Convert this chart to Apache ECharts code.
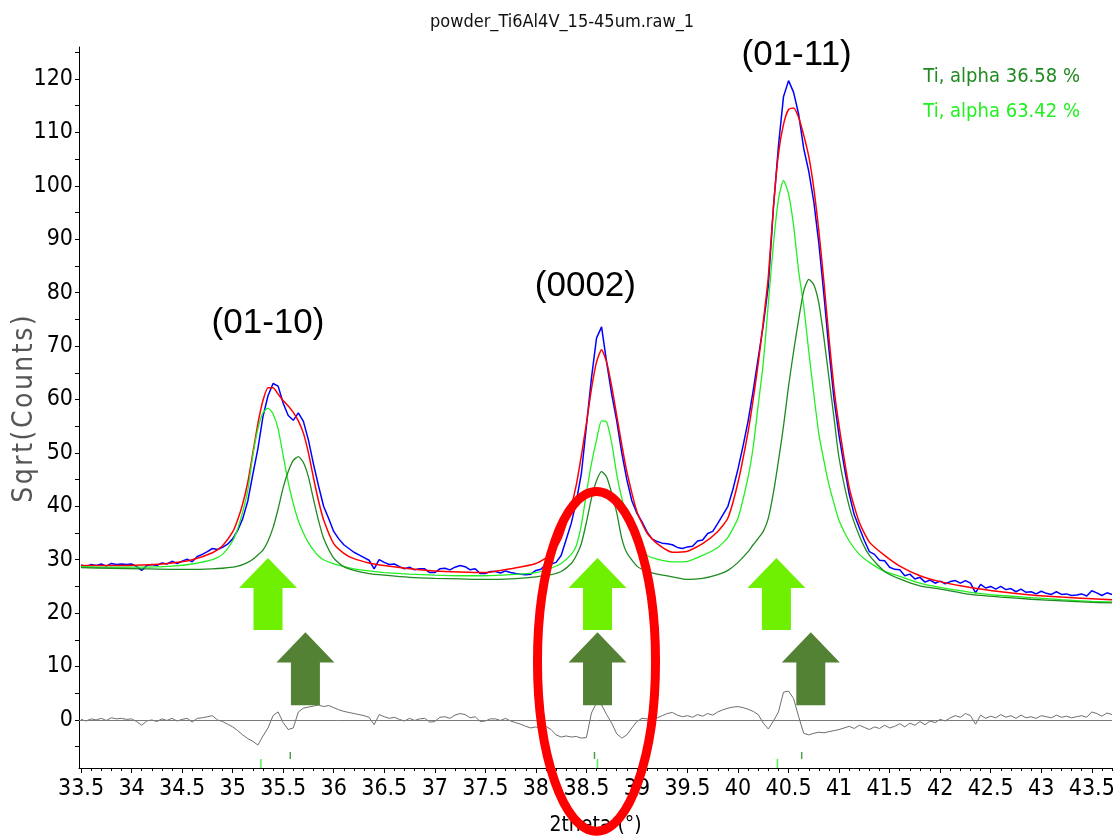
<!DOCTYPE html>
<html><head><meta charset="utf-8">
<script src="https://cdn.jsdelivr.net/npm/echarts@6/dist/echarts.min.js"></script>
<style>html,body{margin:0;padding:0;background:#fff}#c{width:1115px;height:839px}</style>
</head><body><div id="c"></div>
<script>
// ---------------- DATA ----------------
const TITLE = 'powder_Ti6Al4V_15-45um.raw_1';
const X_LABEL = '2theta (°)';
const Y_LABEL = 'Sqrt(Counts)';
const X_TICK_LABELS = [33.5,34,34.5,35,35.5,36,36.5,37,37.5,38,38.5,39,39.5,40,40.5,41,41.5,42,42.5,43,43.5];
const Y_TICK_LABELS = [0,10,20,30,40,50,60,70,80,90,100,110,120];

// observed scan, evenly sampled from OBS_START in steps of OBS_STEP
const OBS_START = 33.5, OBS_STEP = 0.05;
const OBSERVED = [
  29.0,28.7,29.1,28.9,29.2,28.8,29.3,29.1,29.2,29.1,
  29.2,28.7,28.0,28.9,29.1,28.9,29.4,29.2,29.7,29.3,
  29.7,30.1,29.6,30.6,31.0,31.5,32.1,31.9,32.3,32.9,
  33.9,35.5,37.7,41.0,46.0,50.8,56.8,60.7,63.0,62.5,
  59.3,57.0,56.1,57.5,55.9,52.4,47.9,43.8,40.0,37.7,
  35.3,33.9,32.8,32.1,31.4,30.9,30.4,29.9,28.3,30.0,
  29.5,29.1,29.2,28.7,28.3,28.6,28.1,28.3,28.3,27.6,
  27.6,28.3,28.4,28.1,28.6,28.9,28.7,28.1,28.3,27.4,
  27.4,27.8,27.8,27.5,27.9,27.6,27.4,27.3,27.2,27.3,
  28.0,28.2,29.2,29.2,29.5,30.8,33.8,36.8,40.9,46.1,
  55.0,64.0,71.5,73.6,67.0,61.0,56.0,50.0,45.0,41.0,
  38.7,37.1,35.2,33.9,33.4,33.1,33.0,32.8,32.3,32.1,
  32.4,32.5,33.5,33.7,34.9,35.3,36.8,38.4,40.0,43.2,
  47.0,51.3,56.0,61.6,67.8,73.9,81.3,95.8,107.5,116.7,
  119.7,117.5,113.4,107.0,102.7,97.0,89.2,79.6,69.3,60.0,
  53.2,47.5,42.3,38.4,36.0,33.6,31.5,31.0,29.9,29.8,
  28.6,28.2,28.1,27.0,27.3,26.4,26.7,25.8,26.2,25.6,
  26.0,25.5,25.9,26.1,25.6,26.1,25.6,23.8,25.4,24.7,
  25.0,24.5,25.0,24.4,24.6,24.0,24.5,23.9,24.0,23.6,
  24.1,23.7,23.5,24.0,23.5,23.6,23.3,23.4,23.6,23.2,
  24.2,23.8,23.3,23.8,23.5
];
const DIFFERENCE = [
  0.1,-0.2,0.2,0.0,0.3,-0.1,0.4,0.2,0.3,0.1,
  0.2,-0.3,-1.0,-0.2,0.0,-0.3,0.2,-0.1,0.3,-0.2,
  0.1,0.3,-0.4,0.3,0.4,0.6,0.8,0.0,-0.3,-0.8,
  -1.3,-2.0,-2.8,-3.5,-4.0,-4.7,-3.0,-1.5,0.8,1.5,
  -0.5,-1.8,-1.5,1.5,2.2,2.4,2.6,2.8,2.5,2.7,
  2.3,1.9,1.6,1.4,1.2,1.0,0.8,0.5,-0.9,1.0,
  0.6,0.3,0.5,0.1,-0.2,0.3,-0.1,0.2,0.3,-0.4,
  -0.3,0.5,0.6,0.3,0.9,1.2,1.0,0.4,0.6,-0.3,
  -0.2,0.2,0.2,-0.1,0.3,-0.2,-0.5,-0.8,-1.2,-1.5,
  -1.3,-1.6,-1.2,-1.8,-2.8,-3.2,-3.0,-3.2,-3.1,-3.4,
  -3.3,1.3,3.2,2.8,1.0,-0.6,-2.6,-3.4,-2.8,-1.5,
  -0.3,0.3,0.2,0.1,0.4,0.8,1.2,1.4,0.9,0.6,
  0.8,0.5,1.0,0.7,1.2,0.9,1.5,1.9,2.2,2.4,
  2.5,2.3,2.0,1.6,1.0,-0.6,-1.7,-0.2,1.5,5.2,
  5.4,4.0,0.6,-2.5,-2.8,-2.5,-2.3,-2.4,-2.2,-2.0,
  -1.8,-1.5,-1.2,-1.6,-1.0,-1.4,-1.8,-1.3,-1.6,-1.0,
  -1.5,-1.2,-0.7,-1.3,-0.6,-1.0,-0.3,-0.9,-0.2,-0.5,
  0.1,-0.2,0.4,0.8,0.5,1.2,0.8,-0.8,0.9,0.3,
  0.7,0.4,1.0,0.5,0.8,0.3,0.9,0.4,0.6,0.3,
  0.8,0.6,0.4,0.9,0.5,0.7,0.4,0.6,0.8,0.5,
  1.5,1.2,0.7,1.3,1.0
];

// fitted curves, sampled at FIT_X
const FIT_X = [
  33.5,33.8,34.1,34.4,34.6,34.8,34.9,35.0,
  35.05,35.1,35.15,35.2,35.25,35.3,35.35,35.4,35.45,35.5,
  35.55,35.6,35.65,35.7,35.75,35.8,35.85,35.9,
  36.0,36.1,36.2,36.35,36.5,36.75,37.0,37.25,37.5,37.75,38.0,
  38.15,38.25,38.35,38.4,38.45,38.5,38.55,38.6,38.65,
  38.7,38.75,38.8,38.85,38.9,39.0,39.1,39.2,39.35,
  39.5,39.65,39.8,39.9,40.0,40.1,40.15,40.2,40.25,
  40.3,40.35,40.4,40.45,40.5,40.55,40.6,40.65,40.7,
  40.75,40.8,40.85,40.9,40.95,41.0,41.1,41.2,41.3,
  41.45,41.6,41.8,42.0,42.3,42.6,42.9,43.2,43.5,43.7
];
const CALCULATED = [
  28.9,28.9,29.0,29.4,30.0,31.3,32.6,35.2,
  37.5,40.5,44.5,50.0,55.5,59.8,62.2,62.2,61.0,59.8,
  58.8,57.6,56.0,53.7,50.0,45.3,41.0,37.5,
  33.0,31.2,30.2,29.4,28.9,28.3,27.9,27.7,27.6,28.3,29.3,
  31.0,34.0,40.0,44.0,49.5,55.5,62.0,67.0,69.3,
  67.0,62.5,57.0,51.5,46.5,39.0,35.0,33.0,31.4,
  31.6,33.0,35.3,37.8,44.5,54.0,60.0,66.8,74.5,
  83.0,96.0,106.0,111.5,114.3,114.6,112.8,109.5,105.5,
  99.5,91.5,82.0,71.5,62.0,55.0,43.5,37.0,33.3,
  30.8,28.8,27.0,25.9,24.8,24.0,23.4,23.0,22.7,22.5
];
const PHASE_A = [ // Ti, alpha 36.58 %
  28.5,28.4,28.3,28.2,28.2,28.3,28.4,28.6,
  28.8,29.1,29.5,30.1,30.9,31.8,33.5,36.0,39.5,43.5,
  46.5,48.6,49.3,48.2,45.5,41.3,37.3,34.0,
  30.3,28.7,28.0,27.4,27.1,26.7,26.5,26.4,26.3,26.4,26.8,
  27.2,27.8,29.3,30.8,33.0,37.0,41.5,44.8,46.5,
  45.5,42.5,38.8,34.0,31.3,28.8,27.8,27.3,26.8,
  26.3,26.5,27.2,28.0,29.5,31.5,32.8,34.0,35.3,
  37.8,42.5,48.5,55.0,62.5,69.0,75.0,80.3,82.5,
  81.5,78.0,71.5,64.0,56.5,49.0,40.0,34.5,30.8,
  27.8,26.4,25.1,24.5,23.5,23.0,22.6,22.3,22.0,21.9
];
const PHASE_B = [ // Ti, alpha 63.42 %
  28.7,28.6,28.6,28.8,29.2,30.0,31.0,33.5,
  35.8,39.0,43.0,49.5,54.5,57.5,58.4,57.3,54.5,49.5,
  44.5,40.5,37.3,35.0,33.2,31.8,30.7,30.0,
  29.2,28.7,28.3,27.9,27.6,27.3,27.1,27.0,27.0,27.2,27.6,
  28.4,29.3,31.0,32.6,36.5,42.5,48.0,52.4,56.0,
  55.8,51.9,46.0,41.5,38.0,32.4,30.8,30.1,29.6,
  29.7,30.8,32.3,34.2,37.8,45.5,51.1,59.0,66.8,
  78.0,89.0,97.5,101.0,98.5,92.5,84.0,77.5,69.0,
  61.0,53.5,48.5,44.0,40.5,37.3,33.5,31.0,29.5,
  27.8,26.9,25.6,24.8,23.9,23.3,22.9,22.5,22.2,22.1
];
const LEGEND_NAMES = ['Ti, alpha 36.58 %', 'Ti, alpha 63.42 %'];
const REFL_A = [35.57, 38.58, 40.63];   // reflection markers, phase A
const REFL_B = [35.28, 38.61, 40.39];   // reflection markers, phase B
const PEAK_LABELS = ['(01-10)', '(0002)', '(01-11)'];
const PEAK_LABEL_AT = [[35.35, 74.3], [38.49, 81.1], [40.58, 124.5]];
const ARROWS_B = [[35.35, 23.6], [38.61, 23.6], [40.38, 23.6]];
const ARROWS_A = [[35.72, 9.6], [38.61, 9.6], [40.72, 9.6]];
const HIGHLIGHT = { x: 38.60, y: 10.95, rx: 0.584, ry: 31.8 };

// ---------------- CHART ----------------
const NARROW = "'Liberation Sans Narrow','DejaVu Sans Condensed','Arial Narrow',sans-serif";
const REG = "'Liberation Sans',Arial,sans-serif";
const C_OBS = '#0000ff', C_CALC = '#ff0000', C_A = '#1f8a1f', C_B = '#22f022';
const C_ARROW_A = '#548235', C_ARROW_B = '#6ef000';
const ARROW = 'path://M29,0 L58,30 L43.5,30 L43.5,72 L14.5,72 L14.5,30 L0,30 Z';

const obsX = OBSERVED.map((_, i) => +(OBS_START + i * OBS_STEP).toFixed(3));
const pair = (xs, ys) => ys.map((v, i) => [xs[i], v]);
const fmt = v => String(Math.round(v * 10) / 10);

const xMin = 33.48, xMax = 43.7, yMin = -9, yMax = 126;
const xMinor = []; for (let k = 0; k <= 102; k++) { const v = +(33.5 + k * 0.1).toFixed(2); if (v <= xMax) xMinor.push(v); }
const yTicks = []; for (let v = -5; v <= 125; v += 5) yTicks.push(v);

const chart = echarts.init(document.getElementById('c'), null, { renderer: 'canvas' });
const option = {
  animation: false,
  backgroundColor: '#fff',
  grid: { left: 79, right: 3, top: 47, bottom: 71, containLabel: false, outerBoundsMode: 'none' },
  legend: {
    data: LEGEND_NAMES.map((n, i) => ({ name: n, textStyle: { color: i === 0 ? C_A : C_B } })),
    orient: 'vertical', right: 30, top: 62, icon: 'none', itemWidth: 0, itemHeight: 14, itemGap: 15,
    textStyle: { fontFamily: NARROW, fontSize: 20, padding: 0 }, selectedMode: false
  },
  xAxis: [{
    type: 'value', min: xMin, max: xMax,
    axisLine: { show: true, onZero: false, lineStyle: { color: '#000', width: 1 } },
    axisTick: { show: true, length: 5, customValues: X_TICK_LABELS, lineStyle: { color: '#000' } },
    axisLabel: { customValues: X_TICK_LABELS, formatter: fmt, color: '#000', fontFamily: NARROW, fontSize: 23, margin: 10 },
    splitLine: { show: false },
    name: X_LABEL, nameLocation: 'middle', nameGap: 47,
    nameTextStyle: { color: '#000', fontFamily: NARROW, fontSize: 21 }
  }, {
    type: 'value', min: xMin, max: xMax, position: 'bottom', gridIndex: 0,
    axisLine: { show: false, onZero: false },
    axisTick: { show: true, length: 3, customValues: xMinor, lineStyle: { color: '#000' } },
    axisLabel: { show: false }, splitLine: { show: false }
  }],
  yAxis: {
    type: 'value', min: yMin, max: yMax,
    axisLine: { show: true, onZero: false, lineStyle: { color: '#000', width: 1 } },
    axisTick: { show: true, length: 4, customValues: yTicks, lineStyle: { color: '#000' } },
    axisLabel: { customValues: Y_TICK_LABELS, color: '#000', fontFamily: NARROW, fontSize: 23, margin: 6 },
    splitLine: { show: false }
  },
  series: [
    { name: 'difference', type: 'line', data: pair(obsX, DIFFERENCE), showSymbol: false,
      lineStyle: { color: '#6e6e6e', width: 1 }, z: 2,
      markLine: { silent: true, symbol: 'none', label: { show: false },
        lineStyle: { color: '#7a7a7a', width: 1, type: 'solid' }, data: [{ yAxis: 0 }] } },
    { name: 'observed', type: 'line', data: pair(obsX, OBSERVED), showSymbol: false,
      lineStyle: { color: C_OBS, width: 1.5 }, z: 3 },
    { name: 'calculated', type: 'line', data: pair(FIT_X, CALCULATED), showSymbol: false, smooth: 0.2,
      lineStyle: { color: C_CALC, width: 1.5 }, z: 4 },
    { name: LEGEND_NAMES[1], type: 'line', data: pair(FIT_X, PHASE_B), showSymbol: false, smooth: 0.2,
      itemStyle: { color: C_B }, lineStyle: { color: C_B, width: 1.3 }, z: 5 },
    { name: LEGEND_NAMES[0], type: 'line', data: pair(FIT_X, PHASE_A), showSymbol: false, smooth: 0.2,
      itemStyle: { color: C_A }, lineStyle: { color: C_A, width: 1.3 }, z: 6 },
    { name: 'reflB', type: 'scatter', data: REFL_B.map(x => [x, -8.14]), symbol: 'rect', symbolSize: [1.5, 9],
      itemStyle: { color: C_B }, silent: true, z: 7 },
    { name: 'reflA', type: 'scatter', data: REFL_A.map(x => [x, -6.65]), symbol: 'rect', symbolSize: [1.5, 7],
      itemStyle: { color: C_A }, silent: true, z: 7 },
    { name: 'arrowsB', type: 'scatter', data: ARROWS_B, symbol: ARROW, symbolSize: [58, 72],
      itemStyle: { color: C_ARROW_B, opacity: 1 }, silent: true, z: 8 },
    { name: 'arrowsA', type: 'scatter', data: ARROWS_A, symbol: ARROW, symbolSize: [58, 73],
      itemStyle: { color: C_ARROW_A, opacity: 1 }, silent: true, z: 8 }
  ],
  graphic: [
    { type: 'text', x: 562, y: 22, style: { text: TITLE, fill: '#111', font: '18px ' + NARROW, align: 'center', verticalAlign: 'middle' } },
    { type: 'text', x: 25, y: 409, rotation: Math.PI / 2,
      style: { text: Y_LABEL.split('').join('\u200A'), fill: '#555', font: '28px ' + NARROW, align: 'center', verticalAlign: 'middle' } }
  ]
};
chart.setOption(option);

// annotations placed through the axes' own scales
const toPx = p => chart.convertToPixel({ gridIndex: 0 }, p);
const extra = PEAK_LABEL_AT.map((p, i) => {
  const q = toPx(p);
  return { type: 'text', z: 90, x: q[0], y: q[1],
    style: { text: PEAK_LABELS[i], fill: '#000', font: '35px ' + REG, align: 'center', verticalAlign: 'middle' } };
});
const c0 = toPx([HIGHLIGHT.x, HIGHLIGHT.y]);
const c1 = toPx([HIGHLIGHT.x + HIGHLIGHT.rx, HIGHLIGHT.y + HIGHLIGHT.ry]);
extra.push({
  type: 'ellipse', z: 100,
  shape: { cx: c0[0], cy: c0[1], rx: Math.abs(c1[0] - c0[0]), ry: Math.abs(c0[1] - c1[1]) },
  style: { fill: 'none', stroke: '#ff0000', lineWidth: 9 }
});
chart.setOption({ graphic: option.graphic.concat(extra) });
</script></body></html>
